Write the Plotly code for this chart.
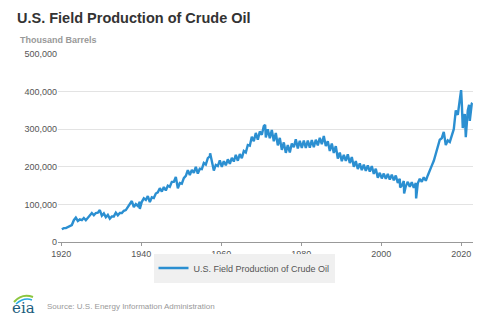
import plotly.graph_objects as go

# ---- data (thousand barrels per month) ----
years = list(range(1920, 2023))

feb_vals = [34, 37, 42, 58, 56, 58, 58, 70, 71, 78,
            70, 66, 62, 68, 71, 77, 85, 101, 93, 96,
            107, 112, 106, 117, 132, 134, 137, 147, 160, 143,
            155, 176, 178, 184, 182, 194, 206, 228, 190, 202,
            200, 204, 208, 214, 216, 223, 238, 256, 268, 272,
            285, 278, 276, 268, 257, 245, 237, 238, 252, 249,
            250, 250, 251, 252, 257, 260, 255, 242, 237, 222,
            215, 216, 210, 200, 194, 191, 189, 187, 181, 171,
            169, 168, 166, 164, 157, 150, 148, 147, 144, 156,
            160, 163, 188, 216, 252, 276, 258, 266, 300, 338,
            370, 279, 322]

aug_vals = [37, 40, 45, 65, 60, 64, 64, 77, 77, 85,
            76, 72, 68, 78, 77, 83, 93, 109, 101, 107,
            116, 122, 119, 129, 143, 146, 150, 160, 173, 157,
            170, 191, 192, 200, 195, 210, 223, 215, 205, 217,
            215, 220, 224, 232, 234, 242, 258, 280, 290, 294,
            308, 300, 298, 290, 277, 265, 258, 262, 273, 269,
            270, 270, 271, 272, 277, 282, 268, 262, 255, 238,
            232, 233, 226, 215, 209, 206, 204, 202, 195, 184,
            182, 181, 179, 177, 168, 162, 160, 159, 157, 168,
            172, 177, 203, 233, 272, 293, 270, 284, 350, 378,
            330, 350, 368]

extra_dates = ["1939-08-15", "1957-03-15", "1970-12-15", "2004-09-15",
               "2005-09-15", "2008-09-15", "2019-12-15", "2020-05-15",
               "2020-11-15", "2021-12-15", "2022-10-15"]
extra_vals = [88, 236, 312, 145, 129, 116, 404, 303, 340, 365, 370]

series_name = "U.S. Field Production of Crude Oil"
y_ticks = [0, 100000, 200000, 300000, 400000, 500000]

# ---- assemble the monthly-ish series ----
pts = []
for y, fv, av in zip(years, feb_vals, aug_vals):
    pts.append((f"{y}-02-15", fv * 1000))
    pts.append((f"{y}-08-15", av * 1000))
for d, v in zip(extra_dates, extra_vals):
    pts.append((d, v * 1000))
pts.sort(key=lambda p: p[0])
xs = [p[0] for p in pts]
ys = [p[1] for p in pts]

fig = go.Figure()
fig.add_trace(go.Scatter(
    x=xs, y=ys, mode="lines", name=series_name,
    line=dict(color="#2b8fd1", width=2.4),
))

L, R, T, B = 58, 27, 54, 84
W, H = 500, 326
pw, ph = W - L - R, H - T - B


def px(xp):
    return (xp - L) / pw


def py(yp):
    return (H - B - yp) / ph


fig.update_layout(
    width=W, height=H,
    margin=dict(l=L, r=R, t=T, b=B),
    paper_bgcolor="white", plot_bgcolor="white",
    font=dict(family="Liberation Sans, Arial, sans-serif", color="#555"),
    title=dict(text="U.S. Field Production of Crude Oil",
               x=17 / W, xanchor="left", xref="container",
               y=1 - 17.5 / H, yanchor="middle", yref="container",
               font=dict(size=14.5, color="#333",
                         family="Liberation Sans, Arial, sans-serif",
                         weight="bold")),
    showlegend=True,
    legend=dict(orientation="h", x=px(244), xanchor="center",
                y=py(268), yanchor="middle",
                bgcolor="#f0f0f0", borderwidth=0,
                font=dict(size=9, color="#555"),
                itemwidth=30),
    xaxis=dict(type="date",
               range=["1919-03-01", "2022-12-05"],
               tick0="1920-01-01", dtick="M240", tickformat="%Y",
               showgrid=False, showline=True, linecolor="#999", linewidth=1,
               ticks="outside", ticklen=3, tickcolor="#999",
               tickfont=dict(size=9, color="#555"), zeroline=False),
    yaxis=dict(range=[0, 500000], tickvals=y_ticks, tickformat=",",
               showgrid=True, gridcolor="#e3e3e3", gridwidth=1,
               zeroline=False, showline=False, ticks="",
               tickfont=dict(size=9, color="#555")),
    annotations=[
        dict(text="<b>Thousand Barrels</b>", xref="paper", yref="paper",
             x=px(18), y=py(39.5), xanchor="left", yanchor="middle",
             showarrow=False, font=dict(size=9, color="#999")),
        dict(text="Source: U.S. Energy Information Administration",
             xref="paper", yref="paper", x=px(45), y=py(306),
             xanchor="left", yanchor="middle", showarrow=False,
             font=dict(size=8, color="#999")),
        dict(text="eia", xref="paper", yref="paper", x=px(23), y=py(308),
             xanchor="center", yanchor="middle", showarrow=False,
             font=dict(size=15, color="#1b5c7d", family="DejaVu Serif")),
    ],
    shapes=[
        dict(type="path", xref="paper", yref="paper",
             path=f"M {px(14)} {py(302)} Q {px(22)} {py(293)} {px(33)} {py(297)}",
             line=dict(color="#8cc63f", width=2)),
        dict(type="path", xref="paper", yref="paper",
             path=f"M {px(16)} {py(304)} Q {px(24)} {py(297)} {px(32)} {py(300)}",
             line=dict(color="#29a9e0", width=1.5)),
    ],
)

fig.write_html("out.html")
